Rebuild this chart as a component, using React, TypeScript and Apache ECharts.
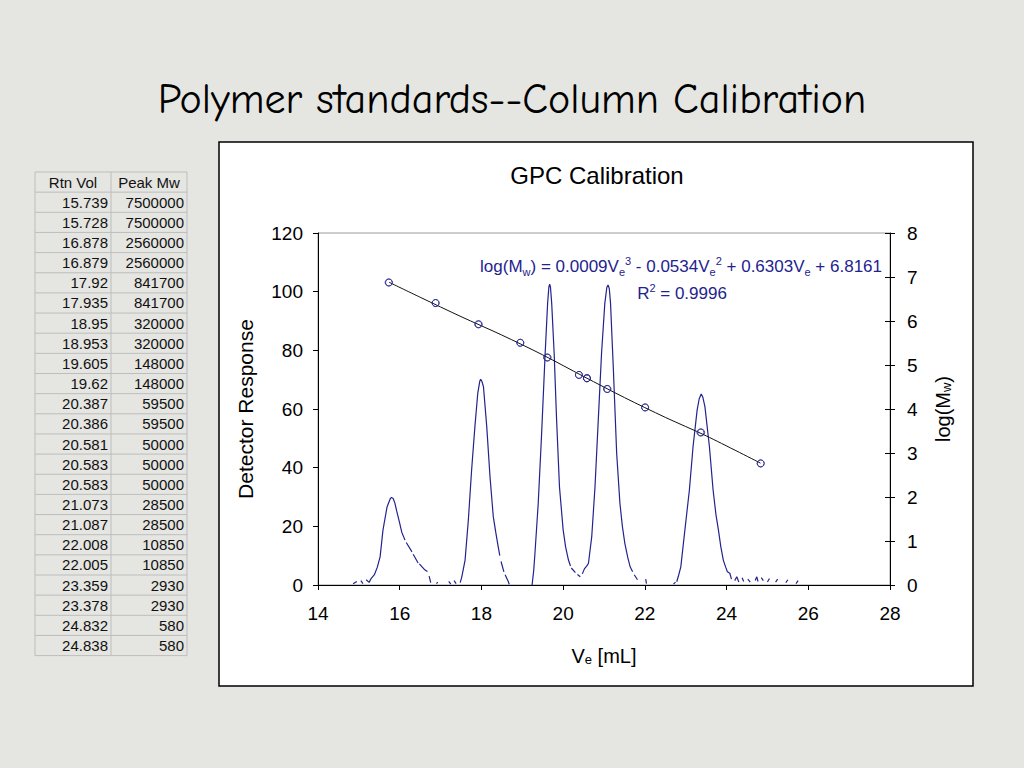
import React, { useEffect, useRef } from 'react';
import * as echarts from 'echarts';

// ---- Table data (retention volume vs. peak molecular weight) ----
const rtnVol = ['15.739', '15.728', '16.878', '16.879', '17.92', '17.935', '18.95', '18.953', '19.605', '19.62', '20.387', '20.386', '20.581', '20.583', '20.583', '21.073', '21.087', '22.008', '22.005', '23.359', '23.378', '24.832', '24.838'];
const peakMw = ['7500000', '7500000', '2560000', '2560000', '841700', '841700', '320000', '320000', '148000', '148000', '59500', '59500', '50000', '50000', '50000', '28500', '28500', '10850', '10850', '2930', '2930', '580', '580'];
const tableHeader = ['Rtn Vol', 'Peak Mw'];

// ---- Calibration trendline ----
const trendVe = [15.74, 16.5, 17.5, 18.5, 19.5, 20.5, 21.5, 22.5, 23.5, 24.83];
const trendLogMw = [6.88, 6.54, 6.1, 5.68, 5.23, 4.74, 4.26, 3.81, 3.39, 2.77];

// ---- Detector trace (Ve [mL], response); null = gap in the trace ----
type P = [number, number] | null;
const peak1: P[] = [
  [14.86, 0.4], [14.95, 1.2], null, [15.05, 1.5], [15.1, 0.5], null, [15.18, 1.8], [15.25, 0.9], [15.3, 2.2], [15.38, 3.5],
  [15.45, 6], [15.52, 9.6], [15.59, 18.7], [15.69, 26.6], [15.77, 29.5], [15.8, 29.8], [15.84, 29.5], [15.88, 28],
  [15.93, 25], [15.98, 22.2], [16.05, 18], [16.13, 15.3], null, [16.16, 14.5], [16.3, 11.3], null, [16.33, 10.5], [16.45, 7.5],
  null, [16.48, 7.2], [16.62, 5.1], [16.68, 4.6], null, [16.72, 3.0], [16.76, 0.8], null, [16.9, 0.5], [16.93, 1.0], null,
];
const peak2: P[] = [
  [17.2, 1.2], [17.25, 0.3], null, [17.33, 1.5], [17.38, 0.5], null, [17.48, 0.8], [17.52, 2.8], [17.6, 8.5], [17.68, 22.2],
  [17.76, 39.2], [17.84, 54], [17.91, 65.3], [17.96, 69.5], [17.98, 70.1], [18.01, 69.5], [18.05, 67.6], [18.13, 54],
  [18.21, 36.9], [18.29, 23.3], [18.35, 18], [18.41, 13.1], [18.45, 10], null, [18.48, 8], [18.55, 4.5], null, [18.58, 3.5], [18.66, 1.1],
  [18.68, 0.2], null,
];
const peak3: P[] = [
  [19.24, 0], [19.28, 5], [19.31, 10.8], [19.39, 27.8], [19.47, 50.6], [19.56, 79], [19.62, 96], [19.65, 101.5], [19.67, 102.6],
  [19.69, 101.5], [19.72, 96], [19.78, 79], [19.84, 56.3], [19.91, 33.5], [20.0, 18.8], [20.06, 13], [20.13, 8.5],
  [20.18, 6.5], null, [20.2, 5.8], [20.3, 4.2], null, [20.35, 3.6], [20.42, 2.8], null,
];
const peak4: P[] = [
  [20.47, 3.8], [20.52, 5.5], [20.58, 6.5], [20.62, 7.4], [20.7, 16.5], [20.78, 33.5], [20.86, 56.3], [20.94, 79], [21.02, 96],
  [21.07, 101.5], [21.1, 102.3], [21.13, 101], [21.16, 96], [21.23, 73.3], [21.31, 44.9], [21.39, 27.8], [21.45, 20],
  [21.51, 14.2], [21.58, 9.5], [21.64, 6.2], [21.7, 4.5], null, [21.74, 3.5], [21.82, 1.8], null, [22.02, 2.0], [22.04, 0.5], null,
];
const peak5: P[] = [
  [22.7, 0.3], [22.75, 1.0], null, [22.78, 1.1], [22.83, 3.5], [22.88, 6.2], [22.98, 18.8], [23.09, 32.4], [23.18, 47.2],
  [23.28, 59.7], [23.33, 63.5], [23.38, 65.1], [23.42, 64], [23.47, 60.8], [23.58, 47.2], [23.67, 32.4], [23.74, 24],
  [23.8, 18.8], [23.86, 13], [23.92, 8.5], [23.98, 6], [24.02, 4.5], [24.08, 4], [24.12, 2.0], null, [24.2, 1.5], [24.25, 2.8],
  [24.3, 1.0], null, [24.38, 2.5], [24.42, 1.2], null, [24.52, 2.0], [24.58, 1.0], null, [24.7, 1.5], [24.74, 2.8], [24.77, 1.2],
  null, [24.85, 2.5], [24.9, 1.5], null, [25.0, 1.0], [25.05, 2.2], null, [25.2, 1.0], [25.25, 2.0], null, [25.45, 0.8],
  [25.5, 1.8], null, [25.7, 0.5], [25.75, 1.5],
];

const NAVY = '#23238e';
const SANS = '"Liberation Sans", Arial, Helvetica, sans-serif';

export default function App() {
  const ref = useRef<HTMLDivElement>(null);

  useEffect(() => {
    if (!ref.current) return;
    const chart = echarts.init(ref.current, null, { renderer: 'svg' });

    const trace = [...peak1, ...peak2, ...peak3, ...peak4, ...peak5].map((p) => (p ? p : ['-', '-']));
    const calib = rtnVol.map((v, i) => [parseFloat(v), Math.log10(parseFloat(peakMw[i]))]);
    const trend = trendVe.map((v, i) => [v, trendLogMw[i]]);

    // table graphics
    const tx0 = 35, tx1 = 111, tx2 = 187, ty0 = 172, rh = 20.15;
    const nRows = rtnVol.length + 1;
    const tableEls: any[] = [];
    for (let r = 0; r <= nRows; r++) {
      const y = ty0 + r * rh;
      tableEls.push({ type: 'line', shape: { x1: tx0, y1: y, x2: tx2, y2: y }, style: { stroke: '#bdbdbd', lineWidth: 1 } });
    }
    [tx0, tx1, tx2].forEach((x) => {
      tableEls.push({ type: 'line', shape: { x1: x, y1: ty0, x2: x, y2: ty0 + nRows * rh }, style: { stroke: '#bdbdbd', lineWidth: 1 } });
    });
    const TF = `15px ${SANS}`;
    tableEls.push({ type: 'text', x: (tx0 + tx1) / 2, y: ty0 + rh / 2, style: { text: tableHeader[0], align: 'center', verticalAlign: 'middle', font: TF, fill: '#111' } });
    tableEls.push({ type: 'text', x: (tx1 + tx2) / 2, y: ty0 + rh / 2, style: { text: tableHeader[1], align: 'center', verticalAlign: 'middle', font: TF, fill: '#111' } });
    rtnVol.forEach((v, i) => {
      const y = ty0 + (i + 1) * rh + rh / 2;
      tableEls.push({ type: 'text', x: tx1 - 3, y, style: { text: v, align: 'right', verticalAlign: 'middle', font: TF, fill: '#111' } });
      tableEls.push({ type: 'text', x: tx2 - 3, y, style: { text: peakMw[i], align: 'right', verticalAlign: 'middle', font: TF, fill: '#111' } });
    });

    const eqRich = {
      m: { fontSize: 17, fontFamily: SANS, fill: NAVY, color: NAVY, lineHeight: 22 },
      sub: { fontSize: 11, fontFamily: SANS, fill: NAVY, color: NAVY, verticalAlign: 'bottom', lineHeight: 14 },
      sup: { fontSize: 11, fontFamily: SANS, fill: NAVY, color: NAVY, verticalAlign: 'top', lineHeight: 14 },
    };

    chart.setOption({
      animation: false,
      backgroundColor: '#e5e5e1',
      graphic: [
        { type: 'rect', z: -10, shape: { x: 219, y: 142, width: 754, height: 544 }, style: { fill: '#ffffff', stroke: '#000', lineWidth: 1.5 } },
        { type: 'text', x: 512, y: 99, style: { text: 'Polymer standards--Column Calibration', align: 'center', verticalAlign: 'middle', font: '42px "Comic Sans MS", "Comic Neue", "Open Sans", sans-serif', fill: '#000' } },
        { type: 'text', x: 597, y: 175, style: { text: 'GPC Calibration', align: 'center', verticalAlign: 'middle', font: `24px ${SANS}`, fill: '#000' } },
        {
          type: 'text', x: 882, y: 266,
          style: {
            text: '{m|log(M}{sub|w}{m|) = 0.0009V}{sub|e}{sup|3}{m| - 0.0534V}{sub|e}{sup|2}{m| + 0.6303V}{sub|e}{m| + 6.8161}',
            rich: eqRich, align: 'right', verticalAlign: 'middle',
          },
        },
        {
          type: 'text', x: 682, y: 293,
          style: { text: '{m|R}{sup|2}{m| = 0.9996}', rich: eqRich, align: 'center', verticalAlign: 'middle' },
        },
        ...tableEls,
      ],
      grid: { left: 318, right: 134, top: 233, bottom: 183, show: true, borderColor: '#9a9a9a', borderWidth: 1, backgroundColor: 'transparent', containLabel: false, outerBoundsMode: 'none' },
      xAxis: {
        type: 'value', min: 14, max: 28, interval: 2,
        axisLine: { lineStyle: { color: '#000', width: 1 } },
        axisTick: { length: 5, lineStyle: { color: '#000' } },
        axisLabel: { fontSize: 19, color: '#000', fontFamily: SANS, margin: 19 },
        splitLine: { show: false },
        name: '{n|V}{s|e}{n| [mL]}', nameLocation: 'middle', nameGap: 60,
        nameTextStyle: { rich: { n: { fontSize: 20, color: '#000', fontFamily: SANS }, s: { fontSize: 13, color: '#000', fontFamily: SANS, verticalAlign: 'bottom', padding: [8, 0, 0, 0] } } },
      },
      yAxis: [
        {
          type: 'value', min: 0, max: 120, interval: 20, position: 'left',
          axisLine: { show: true, lineStyle: { color: '#000', width: 1 } },
          axisTick: { show: true, length: 5, lineStyle: { color: '#000' } },
          axisLabel: { fontSize: 19, color: '#000', fontFamily: SANS, margin: 15 },
          splitLine: { show: false },
          name: 'Detector Response', nameLocation: 'middle', nameGap: 62, nameRotate: 90,
          nameTextStyle: { fontSize: 21, color: '#000', fontFamily: SANS },
        },
        {
          type: 'value', min: 0, max: 8, interval: 1, position: 'right',
          axisLine: { show: true, lineStyle: { color: '#000', width: 1 } },
          axisTick: { show: true, length: 5, lineStyle: { color: '#000' } },
          axisLabel: { fontSize: 19, color: '#000', fontFamily: SANS, margin: 17 },
          splitLine: { show: false },
          name: '{n|log(M}{s|w}{n|)}', nameLocation: 'middle', nameGap: 42, nameRotate: 90,
          nameTextStyle: { rich: { n: { fontSize: 20, color: '#000', fontFamily: SANS }, s: { fontSize: 13, color: '#000', fontFamily: SANS, verticalAlign: 'bottom', padding: [8, 0, 0, 0] } } },
        },
        {
          type: 'value', min: 0, max: 8, interval: 1, position: 'right',
          axisLine: { show: false },
          axisTick: { show: true, inside: true, length: 5, lineStyle: { color: '#000' } },
          axisLabel: { show: false },
          splitLine: { show: false },
        },
      ],
      series: [
        {
          type: 'line', name: 'Detector', xAxisIndex: 0, yAxisIndex: 0, data: trace, showSymbol: false, symbol: 'none',
          connectNulls: false, lineStyle: { color: NAVY, width: 1.2 }, z: 2,
        },
        {
          type: 'line', name: 'Trend', xAxisIndex: 0, yAxisIndex: 1, data: trend, showSymbol: false, symbol: 'none', smooth: 0.3,
          lineStyle: { color: '#111', width: 1 }, z: 3,
        },
        {
          type: 'scatter', name: 'Standards', xAxisIndex: 0, yAxisIndex: 1, data: calib, symbol: 'circle', symbolSize: 7,
          itemStyle: { color: 'rgba(255,255,255,0)', borderColor: NAVY, borderWidth: 1 }, z: 4,
        },
      ],
    });

    return () => chart.dispose();
  }, []);

  return <div ref={ref} style={{ position: 'absolute', left: 0, top: 0, width: 1024, height: 768 }} />;
}
